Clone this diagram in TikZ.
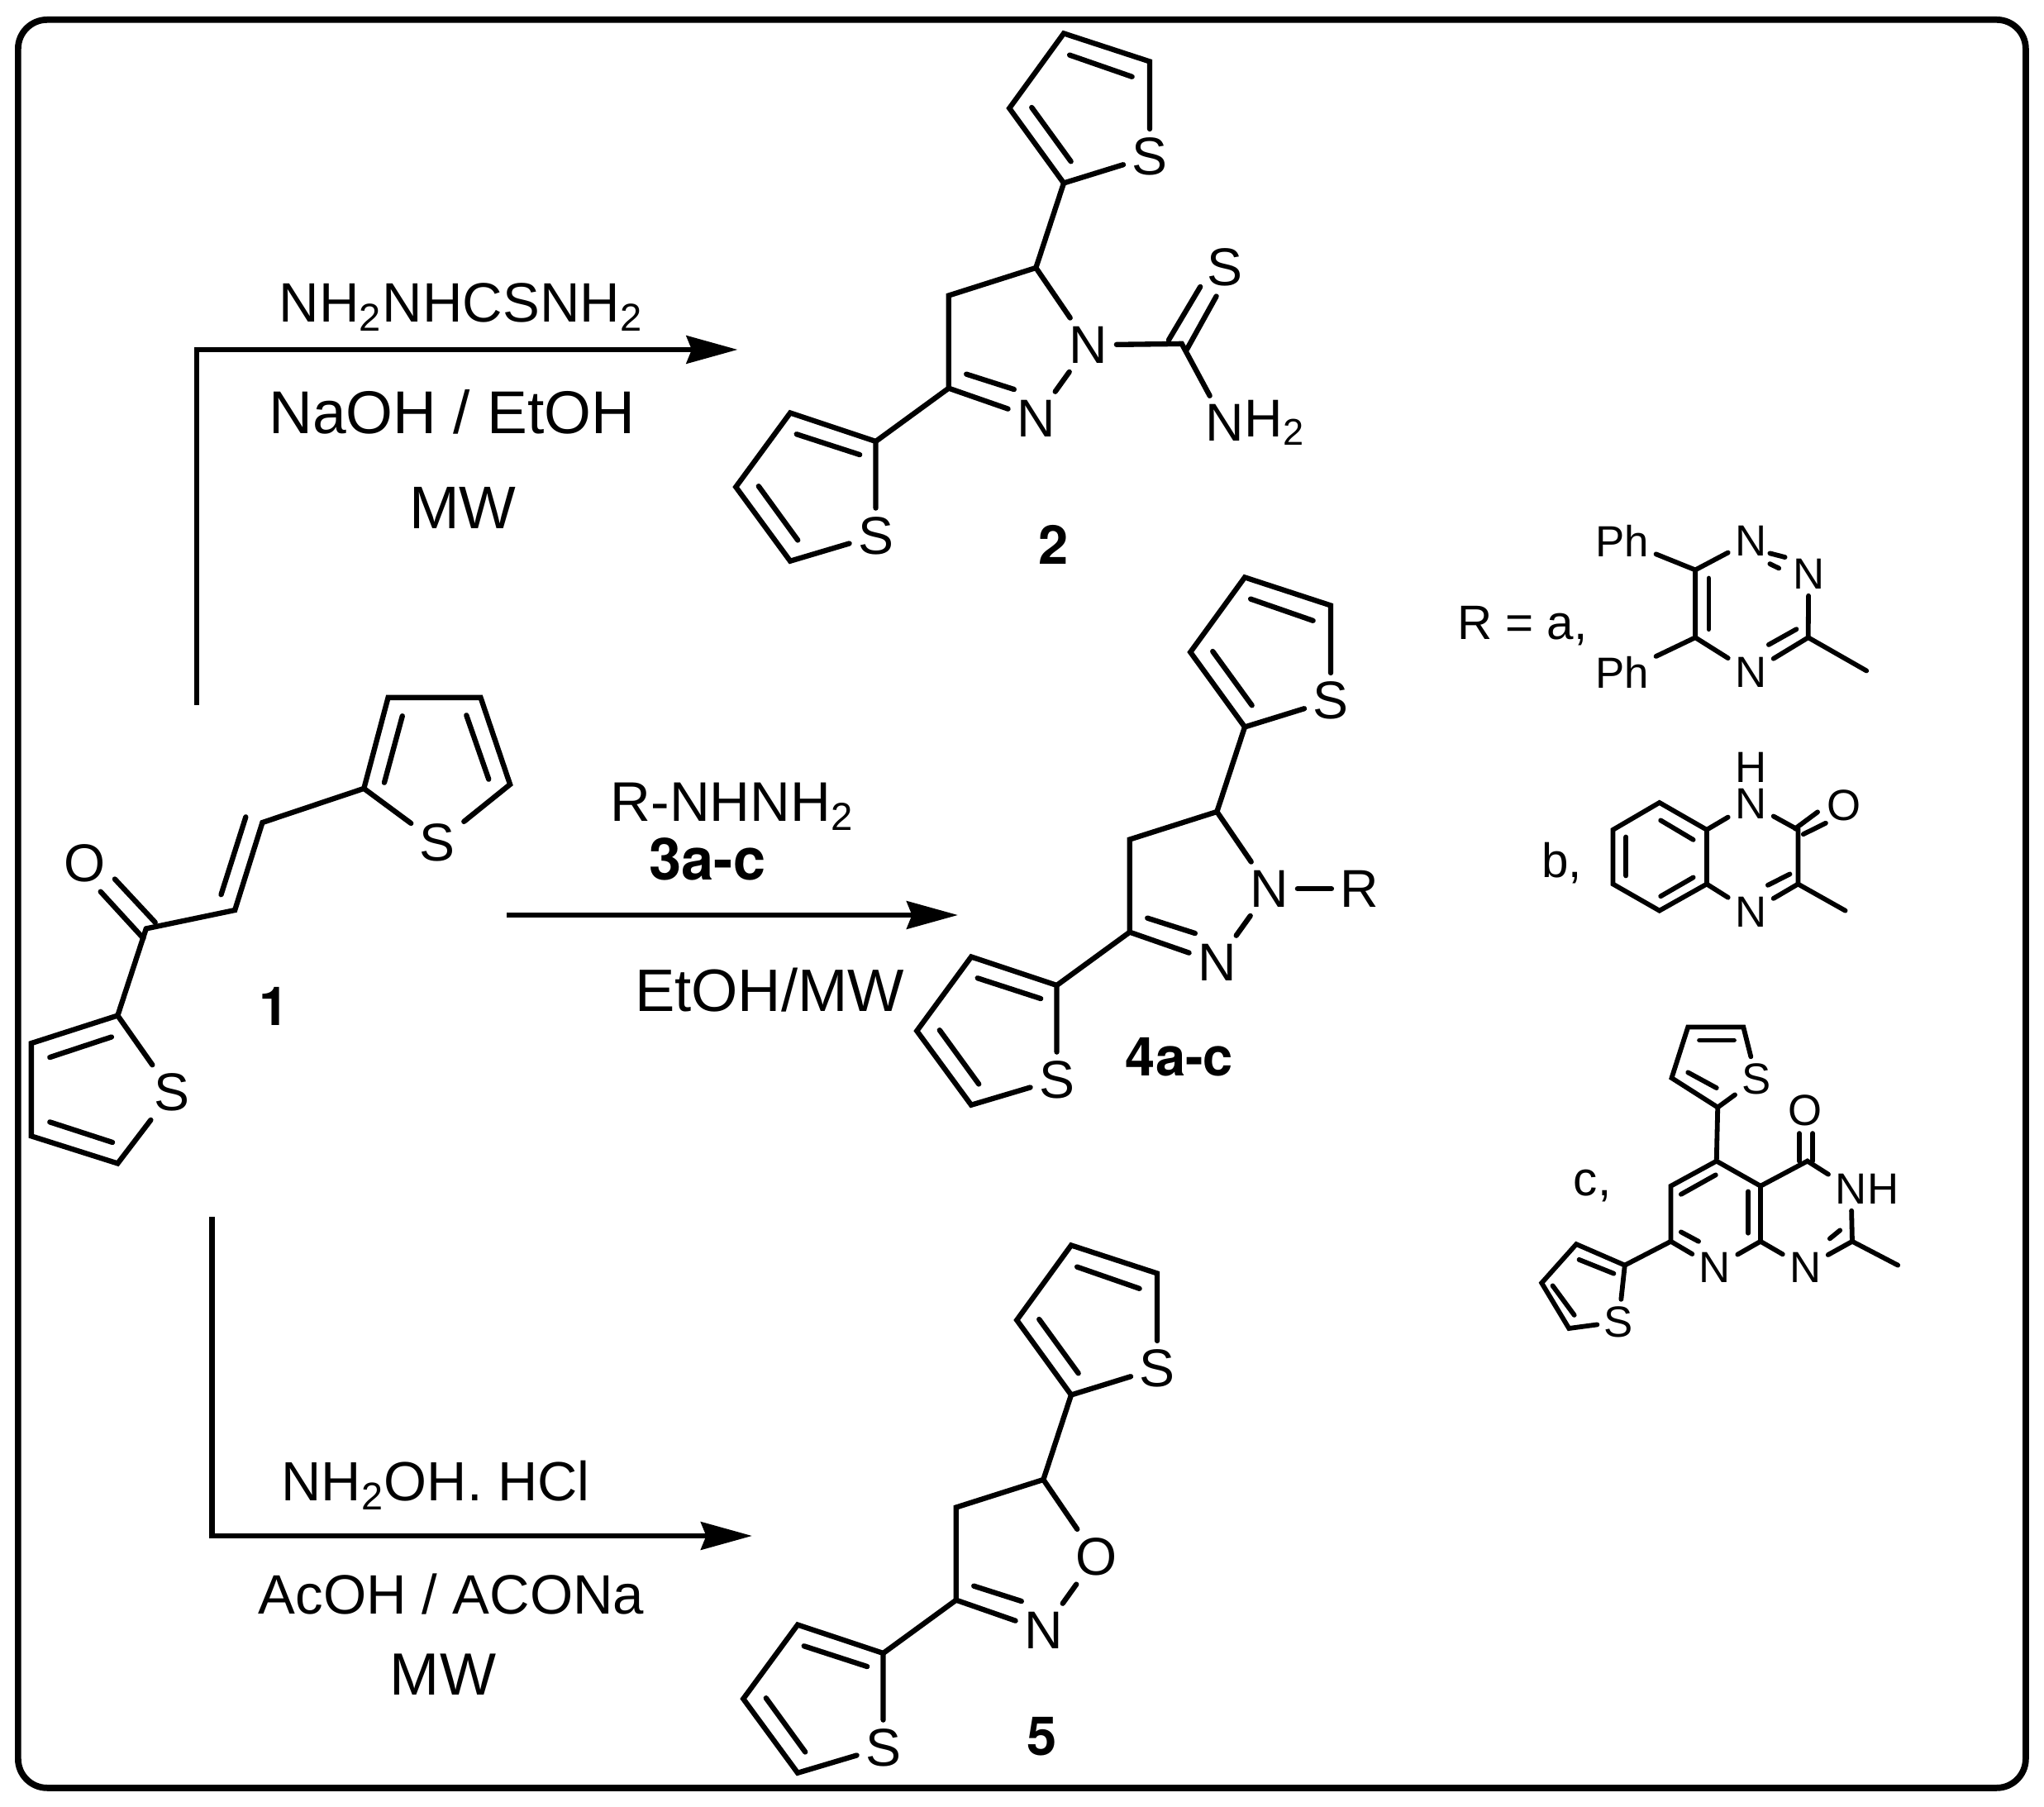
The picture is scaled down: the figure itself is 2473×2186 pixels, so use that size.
\documentclass[tikz,border=0pt]{standalone}
\usepackage{fontspec}
\usetikzlibrary{arrows.meta}
\setmainfont{Liberation Sans}
\newfontfamily\heros{TeX Gyre Heros}
\newcommand\fsz[1]{\fontsize{#1}{#1}\selectfont}
\tikzset{
  bond/.style={line width=1.8pt,line cap=round,line join=miter},
  sbond/.style={line width=1.65pt,line cap=round,line join=miter},
  atom/.style={font=\fsz{18.3},inner sep=2.8pt},
  satom/.style={font=\fsz{15},inner sep=2.2pt},
  reagent/.style={anchor=base,inner sep=0pt},
  cmpd/.style={anchor=base,inner sep=0pt,font=\fsz{18.5}\heros\bfseries},
  rxn/.style={line width=1.9pt,-{Stealth[length=17.6pt,width=9.5pt,inset=1.8pt]}},
  zthree/.style={x=0.005102cm,y=-0.004591cm},
  ztwo/.style={x=0.00574cm,y=-0.004464cm,yshift=-8cm},
  zone/.style={x=0.004926cm,y=-0.006698cm,xshift=17cm,yshift=-6cm},
}
% shared dihydro-azole core with two thienyl groups (coordinates of one copy)
\newcommand\azolecore[5]{%
\begin{scope}[zthree,xshift=#1*0.01cm+8.5cm,yshift=-#2*0.01cm,name prefix=#3-]
  \coordinate (uc2) at (856,482);
  \coordinate (uc3) at (727,285);
  \coordinate (uc4) at (856,88);
  \coordinate (uc5) at (1060,162);
  \node[atom] (us) at (1060,412) {S};
  \draw[bond] (us) -- (uc5) -- (uc4) -- (uc3) -- (uc2) -- (us);
  \draw[bond] (873,425) -- (780,283);
  \draw[bond] (870,145) -- (1018,202);
  \coordinate (sp) at (790,705);
  \coordinate (ch) at (583,778);
  \coordinate (cn) at (583,1022);
  \node[atom] (x) at (915,908) {#4};
  \node[atom] (n) at (790,1102) {N};
  \draw[bond] (uc2) -- (sp);
  \draw[bond] (x) -- (sp) -- (ch) -- (cn) -- (n);
  \draw[bond] (n) -- (x);
  \draw[bond] (625,985) -- (738,1025);
  \coordinate (lc2) at (410,1162);
  \coordinate (lc3) at (207,1087);
  \coordinate (lc4) at (78,1282);
  \coordinate (lc5) at (207,1477);
  \node[atom] (ls) at (410,1410) {S};
  \draw[bond] (cn) -- (lc2);
  \draw[bond] (ls) -- (lc2) -- (lc3) -- (lc4) -- (lc5) -- (ls);
  \draw[bond] (372,1197) -- (222,1143);
  \draw[bond] (225,1422) -- (132,1280);
  #5
\end{scope}}
\begin{document}
\begin{tikzpicture}[x=0.01cm,y=-0.01cm]
\useasboundingbox (0,0) rectangle (2473,2186);
\fill[white] (0,0) rectangle (2473,2186);
\node[draw,line width=2.2pt,rounded corners=10pt,minimum width=2429*0.01cm,minimum height=2139*0.01cm,inner sep=0pt,anchor=north west] (frame) at (18,20) {};

% compound 2
\azolecore{0}{0}{two}{N}{%
  \coordinate (cs) at (1136,905);
  \node[atom] (st) at (1238,703) {S};
  \node[atom] (nh) at (1237,1113) {N};
  \node[anchor=west,inner sep=0pt,font=\fsz{18.3}] at ([xshift=-2.8pt]nh.east) {H$_{\fsz{14}\mathrm{2}}$};
  \draw[bond] (x) -- (cs) -- (nh);
  \draw[bond] (1105,895) -- (1180,755);
  \draw[bond] (1148,920) -- (1218,780);
}
% compound 4
\azolecore{219}{658}{four}{N}{%
  \node[atom] (r) at (1128,908) {R};
  \draw[bond] (x) -- (r);
}
% compound 5
\azolecore{9}{1466}{five}{O}{}

% compound 1
\begin{scope}[ztwo,name prefix=one-]
  \coordinate (a2) at (767,343);
  \coordinate (a3) at (818,97);
  \coordinate (a4) at (1013,97);
  \coordinate (a5) at (1075,332);
  \node[atom] (as) at (922,490) {S};
  \draw[bond] (as) -- (a2) -- (a3) -- (a4) -- (a5) -- (as);
  \draw[bond] (848,147) -- (810,327);
  \draw[bond] (983,145) -- (1030,318);
  \coordinate (vb) at (553,435);
  \coordinate (va) at (495,672);
  \coordinate (co) at (308,722);
  \draw[bond] (a2) -- (vb) -- (va) -- (co);
  \draw[bond] (518,420) -- (466,630);
  \node[atom] (o) at (178,545) {O};
  \draw[bond] (302,748) -- (212,622);
  \draw[bond] (327,705) -- (242,588);
  \coordinate (b2) at (248,957);
  \coordinate (b3) at (66,1032);
  \coordinate (b4) at (66,1283);
  \coordinate (b5) at (248,1357);
  \node[atom] (bs) at (362,1165) {S};
  \draw[bond] (co) -- (b2);
  \draw[bond] (bs) -- (b2) -- (b3) -- (b4) -- (b5) -- (bs);
  \draw[bond] (235,1015) -- (105,1070);
  \draw[bond] (105,1245) -- (237,1300);
\end{scope}

% R groups
\begin{scope}[zone]
  \node[anchor=base west,inner sep=0pt,font=\fsz{16.6}] (rlabel) at (125,258) {R = a,};
  \coordinate (t6) at (710,133);
  \coordinate (t5) at (710,255);
  \coordinate (t3) at (987,255);
  \node[satom] (t1) at (846,80) {N};
  \node[satom] (t2) at (988,140) {N};
  \node[satom] (t4) at (846,318) {N};
  \node[satom] (ph1) at (531,80) {Ph};
  \node[satom] (ph2) at (531,318) {Ph};
  \coordinate (tm) at (1130,315);
  \draw[sbond] (t1) -- (t6) -- (t5) -- (t4);
  \draw[sbond] (t4) -- (t3) -- (t2);
  \draw[sbond] (t3) -- (tm);
  \draw[sbond] (t6) -- (ph1);
  \draw[sbond] (t5) -- (ph2);
  \draw[sbond] (893,103) -- (930,110);
  \draw[sbond] (893,122) -- (915,130);
  \draw[sbond] (743,148) -- (743,240);
  \draw[sbond] (890,268) -- (958,240);

  \node[anchor=base west,inner sep=0pt,font=\fsz{16.6}] (blabel) at (332,688) {b,};
  \coordinate (q1) at (622,553);
  \coordinate (q2) at (738,602);
  \coordinate (q3) at (738,700);
  \coordinate (q4) at (622,748);
  \coordinate (q5) at (508,700);
  \coordinate (q6) at (508,602);
  \coordinate (q7) at (962,602);
  \coordinate (q8) at (962,700);
  \coordinate (qm) at (1078,748);
  \node[satom] (qn1) at (846,555) {N};
  \node[satom,inner sep=0pt] (qh) at (846,490) {H};
  \node[satom] (qn4) at (846,750) {N};
  \node[satom] (qo) at (1075,558) {O};
  \draw[sbond] (q1) -- (q2) -- (q3) -- (q4) -- (q5) -- (q6) -- cycle;
  \draw[sbond] (q2) -- (qn1) -- (q7) -- (q8) -- (qn4) -- (q3);
  \draw[sbond] (q8) -- (qm);
  \draw[sbond] (625,585) -- (705,620);
  \draw[sbond] (540,615) -- (540,685);
  \draw[sbond] (625,722) -- (705,688);
  \draw[sbond] (955,600) -- (1010,570);
  \draw[sbond] (975,610) -- (1030,590);
  \draw[sbond] (888,702) -- (942,682);

  \node[anchor=base west,inner sep=0pt,font=\fsz{16.6}] (clabel) at (410,1262) {c,};
  \coordinate (w2) at (765,1103);
  \coordinate (w3) at (652,1050);
  \coordinate (w4) at (692,958);
  \coordinate (w5) at (828,958);
  \node[satom] (ws) at (860,1052) {S};
  \draw[sbond] (ws) -- (w5) -- (w4) -- (w3) -- (w2) -- (ws);
  \draw[sbond] (762,1068) -- (692,1040);
  \draw[sbond] (720,982) -- (805,982);
  \coordinate (p5) at (762,1200);
  \coordinate (p4a) at (870,1245);
  \coordinate (p8a) at (870,1345);
  \coordinate (p7) at (650,1345);
  \coordinate (p6) at (650,1245);
  \node[satom] (pn) at (758,1392) {N};
  \draw[sbond] (w2) -- (p5);
  \draw[sbond] (pn) -- (p7) -- (p6) -- (p5) -- (p4a) -- (p8a) -- (pn);
  \draw[sbond] (675,1260) -- (760,1225);
  \draw[sbond] (675,1328) -- (718,1345);
  \draw[sbond] (840,1255) -- (840,1330);
  \coordinate (p4) at (985,1200);
  \coordinate (p2) at (1095,1345);
  \coordinate (pm) at (1207,1388);
  \node[satom] (po) at (980,1108) {O};
  \node[satom] (pnh) at (1092,1250) {N};
  \node[anchor=west,inner sep=0pt,font=\fsz{15}] at ([xshift=-2.2pt]pnh.east) {H};
  \node[satom] (pn1) at (980,1392) {N};
  \draw[sbond] (p4a) -- (p4) -- (pnh) -- (p2) -- (pn1) -- (p8a);
  \draw[sbond] (p2) -- (pm);
  \draw[sbond] (965,1200) -- (965,1150);
  \draw[sbond] (998,1200) -- (998,1150);
  \draw[sbond] (1040,1340) -- (1065,1325);
  \coordinate (v2) at (537,1388);
  \coordinate (v3) at (418,1350);
  \coordinate (v4) at (333,1420);
  \coordinate (v5) at (400,1502);
  \node[satom] (vs) at (522,1490) {S};
  \draw[sbond] (p7) -- (v2);
  \draw[sbond] (vs) -- (v2) -- (v3) -- (v4) -- (v5) -- (vs);
  \draw[sbond] (425,1378) -- (510,1403);
  \draw[sbond] (360,1425) -- (413,1478);
\end{scope}

% arrows
\coordinate (ta) at (238,853);
\coordinate (tb) at (238,423);
\coordinate (tc) at (892.5,423);
\draw[rxn] (ta) -- (tb) -- (tc);
\coordinate (ma) at (613,1107);
\coordinate (mb) at (1159,1107);
\draw[rxn] (ma) -- (mb);
\coordinate (ba) at (256.6,1472);
\coordinate (bb) at (256.6,1858);
\coordinate (bc) at (910,1858);
\draw[rxn] (ba) -- (bb) -- (bc);

% reagents
\node[reagent,font=\fsz{19.1}] (r1) at (558,390) {NH$_{\fsz{14}\mathrm{2}}$NHCSNH$_{\fsz{14}\mathrm{2}}$};
\node[reagent,font=\fsz{20.8}] (r2) at (547,525) {NaOH / EtOH};
\node[reagent,font=\fsz{20.7}] (r3) at (560,640) {MW};
\node[reagent,font=\fsz{19.2}] (r4) at (886,994) {R-NHNH$_{\fsz{14}\mathrm{2}}$};
\node[reagent,font=\fsz{20}\heros\bfseries] (r5) at (856,1064) {3a-c};
\node[reagent,font=\fsz{20.6}] (r6) at (931,1223) {EtOH/MW};
\node[reagent,font=\fsz{19}] (r7) at (527,1815) {NH$_{\fsz{14}\mathrm{2}}$OH. HCl};
\node[reagent,font=\fsz{19.1}] (r8) at (546,1952) {AcOH / ACONa};
\node[reagent,font=\fsz{20.5}] (r9) at (536,2050) {MW};

% compound numbers
\node[cmpd] (n1) at (332,1240) {1};
\node[cmpd] (n2) at (1275,683) {2};
\node[cmpd] (n4) at (1427,1301) {4a-c};
\node[cmpd] (n5) at (1261,2123) {5};
\end{tikzpicture}
\end{document}
